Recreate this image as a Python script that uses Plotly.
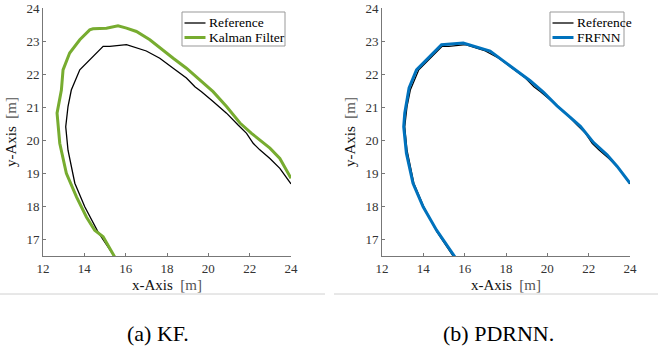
import plotly.graph_objects as go

# Reference trajectory
ref_x = [15.47, 14.66, 14.02, 13.54, 13.21, 13.10, 13.21, 13.37, 13.78, 14.26, 14.91, 15.23, 16.04, 17.00, 17.65,
         18.30, 18.94, 19.35, 19.67, 20.23, 20.88, 21.44, 21.85, 22.17, 22.49, 22.98, 23.46, 24.00]
ref_y = [16.47, 17.23, 17.99, 18.70, 19.70, 20.41, 21.02, 21.52, 22.13, 22.43, 22.84, 22.84, 22.89, 22.70, 22.48,
         22.18, 21.88, 21.62, 21.47, 21.17, 20.82, 20.46, 20.21, 19.91, 19.71, 19.45, 19.15, 18.68]

# Kalman filter estimate
kf_x = [15.47, 14.91, 14.50, 14.10, 13.62, 13.13, 12.81, 12.68, 12.89, 12.97, 13.29, 13.78, 14.26, 14.42, 15.07,
        15.63, 16.04, 16.52, 17.17, 17.65, 18.30, 18.94, 19.59, 20.23, 20.88, 21.53, 22.09, 22.49, 22.98, 23.46, 24.00]
kf_y = [16.47, 17.08, 17.28, 17.68, 18.29, 19.00, 19.91, 20.82, 21.52, 22.13, 22.64, 23.04, 23.34, 23.37, 23.39,
        23.46, 23.39, 23.29, 23.04, 22.79, 22.48, 22.18, 21.83, 21.47, 21.02, 20.52, 20.21, 20.01, 19.76, 19.45, 18.85]

# FRFNN estimate
nn_x = [15.53, 14.64, 13.99, 13.50, 13.18, 13.05, 13.10, 13.31, 13.67, 14.40, 14.88, 15.93, 17.23, 17.87, 18.52,
        19.17, 19.82, 20.47, 21.11, 21.60, 22.24, 22.89, 23.38, 24.00]
nn_y = [16.47, 17.28, 17.99, 18.70, 19.61, 20.41, 20.82, 21.58, 22.13, 22.58, 22.89, 22.94, 22.70, 22.40, 22.10,
        21.80, 21.45, 21.04, 20.69, 20.42, 19.93, 19.56, 19.21, 18.70]

x_ticks = [12, 14, 16, 18, 20, 22, 24]
y_ticks = [17, 18, 19, 20, 21, 22, 23, 24]
captions = ["(a) KF.", "(b) PDRNN."]
legend_names = [["Reference", "Kalman Filter"], ["Reference", "FRFNN"]]

SERIF = "Liberation Serif, serif"
AX = "#777777"
C_REF, C_KF, C_NN = "black", "#77AC30", "#0072BD"

fig = go.Figure()
fig.add_trace(go.Scatter(x=ref_x, y=ref_y, mode="lines", name=legend_names[0][0],
                         line=dict(color=C_REF, width=1.3), xaxis="x", yaxis="y"))
fig.add_trace(go.Scatter(x=kf_x, y=kf_y, mode="lines", name=legend_names[0][1],
                         line=dict(color=C_KF, width=3), xaxis="x", yaxis="y"))
fig.add_trace(go.Scatter(x=ref_x, y=ref_y, mode="lines", name=legend_names[1][0],
                         line=dict(color=C_REF, width=1.3), xaxis="x2", yaxis="y2"))
fig.add_trace(go.Scatter(x=nn_x, y=nn_y, mode="lines", name=legend_names[1][1],
                         line=dict(color=C_NN, width=3), xaxis="x2", yaxis="y2"))

W, H = 658, 349
ydom = [1 - 256 / H, 1 - 8 / H]
common_x = dict(range=[12, 24], tickvals=x_ticks, showgrid=False, zeroline=False, showline=True,
                linecolor=AX, linewidth=1, ticks="inside", ticklen=3, tickcolor=AX, automargin=False,
                tickfont=dict(family=SERIF, size=13, color="#333333"),
                title=dict(text="x-Axis  <span style='color:#555'>[m]</span>",
                           font=dict(family=SERIF, size=15, color="#111"), standoff=4))
common_y = dict(range=[16.5, 24], tickvals=y_ticks, showgrid=False, zeroline=False, showline=True,
                linecolor=AX, linewidth=1, ticks="inside", ticklen=3, tickcolor=AX, automargin=False,
                tickfont=dict(family=SERIF, size=13, color="#333333"),
                title=dict(text="y-Axis  <span style='color:#555'>[m]</span>",
                           font=dict(family=SERIF, size=15, color="#111"), standoff=6))

fig.update_layout(
    width=W, height=H, margin=dict(l=0, r=0, t=0, b=0),
    paper_bgcolor="white", plot_bgcolor="white", showlegend=False,
    xaxis=dict(domain=[43 / W, 291 / W], anchor="y", **common_x),
    yaxis=dict(domain=ydom, anchor="x", **common_y),
    xaxis2=dict(domain=[382 / W, 630 / W], anchor="y2", **common_x),
    yaxis2=dict(domain=ydom, anchor="x2", **common_y),
)

# manual legends (pixel positions converted to paper coords)
def px(x):
    return x / W

def py(y):
    return 1 - y / H

legend_boxes = [(182, 12, 285, 46), (550, 12, 624, 46)]
legend_colors = [[C_REF, C_KF], [C_REF, C_NN]]
legend_widths = [1.3, 3]
for (x0, y0, x1, y1), names, cols in zip(legend_boxes, legend_names, legend_colors):
    fig.add_shape(type="rect", xref="paper", yref="paper", x0=px(x0), x1=px(x1), y0=py(y1), y1=py(y0),
                  line=dict(color="#999", width=1), fillcolor="white", layer="above")
    for i, (nm, c) in enumerate(zip(names, cols)):
        yy = y0 + 11 + i * 14.5
        fig.add_shape(type="line", xref="paper", yref="paper", x0=px(x0 + 2.5), x1=px(x0 + 23.5),
                      y0=py(yy), y1=py(yy), line=dict(color=c, width=legend_widths[i]), layer="above")
        fig.add_annotation(x=px(x0 + 25), y=py(yy), xref="paper", yref="paper", text=nm, showarrow=False,
                           xanchor="left", yanchor="middle", font=dict(family=SERIF, size=13.5, color="black"))

# separator lines
fig.add_shape(type="line", xref="paper", yref="paper", x0=0, x1=px(325), y0=py(294), y1=py(294),
              line=dict(color="#d0d0d0", width=1))
fig.add_shape(type="line", xref="paper", yref="paper", x0=px(334), x1=1, y0=py(294), y1=py(294),
              line=dict(color="#d0d0d0", width=1))

for cx, txt in zip([158, 498], captions):
    fig.add_annotation(x=px(cx), y=py(333), xref="paper", yref="paper", text=txt, showarrow=False,
                       font=dict(family=SERIF, size=22, color="black"), xanchor="center", yanchor="middle")

fig.write_html("out.html", config={"displayModeBar": False},
               post_script="document.body.style.margin='0px';")
